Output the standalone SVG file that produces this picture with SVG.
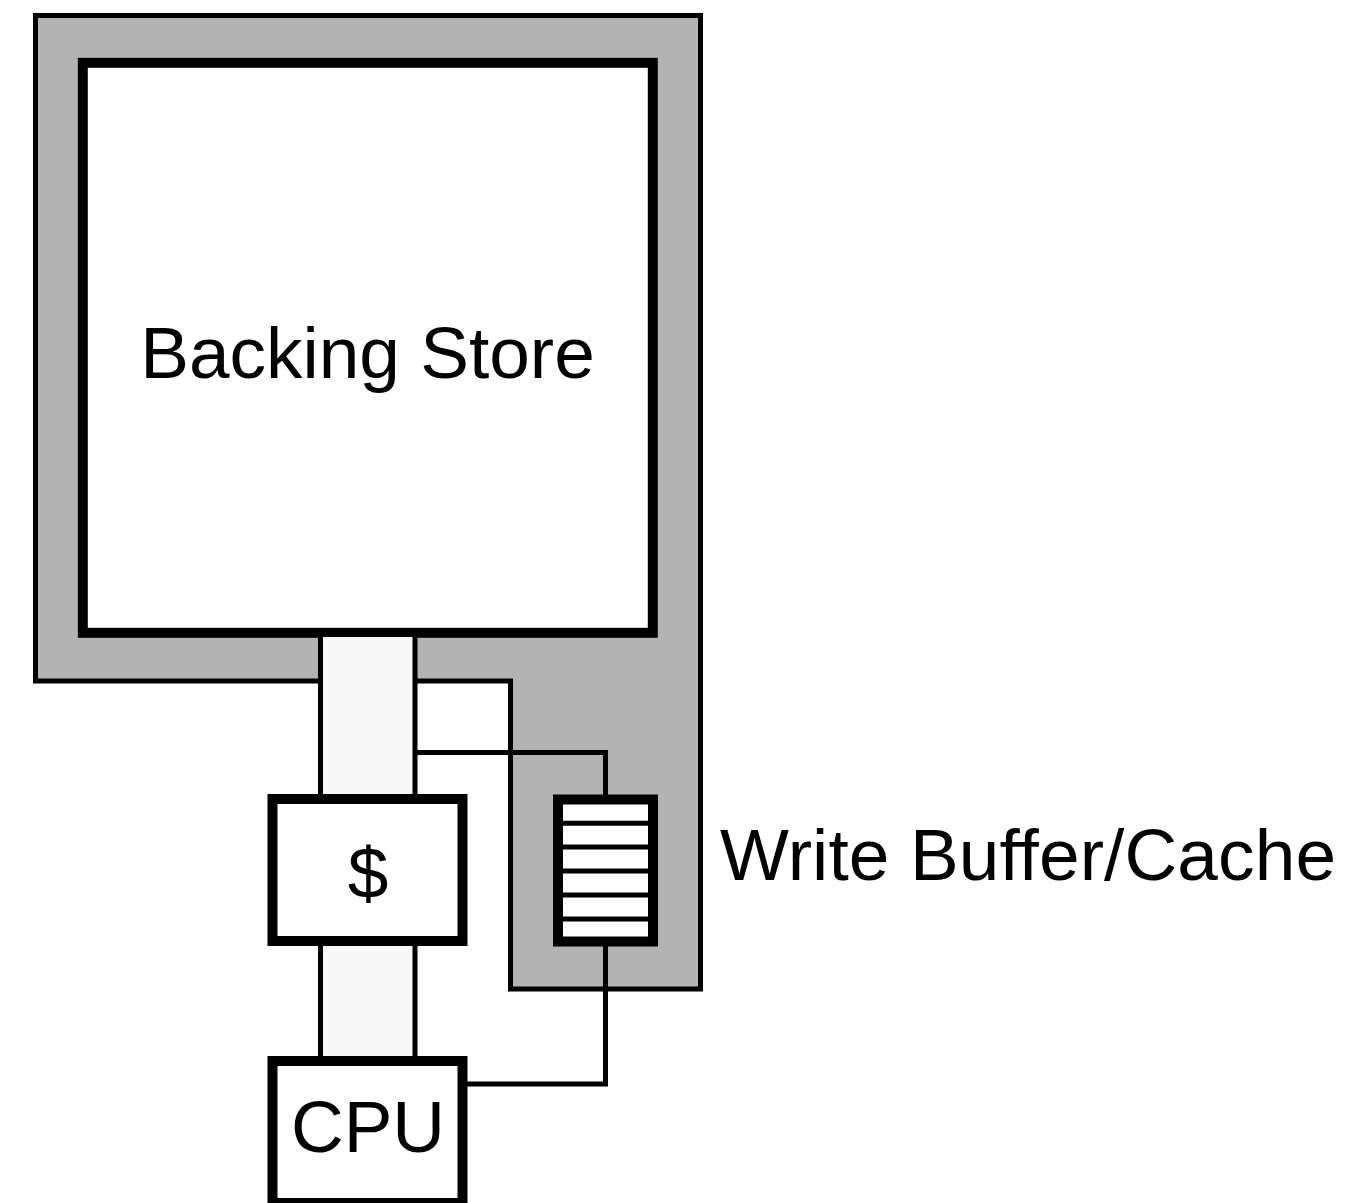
<svg xmlns="http://www.w3.org/2000/svg" width="1347" height="1203" viewBox="0 0 1347 1203">
<style>
.lbl{font-family:"Liberation Sans",Arial,sans-serif;font-size:73px;fill:#000}
.box{fill:#fff;stroke:#000;stroke-width:10}
.wire{fill:none;stroke:#000;stroke-width:5}
.bus{fill:#f7f7f7;stroke:none}
</style>
<rect width="1347" height="1203" fill="#fff"/>
<g id="memory-region">
<path d="M35.5,15.5 H700.5 V989 H510.5 V681 H35.5 Z" fill="#b3b3b3" stroke="#000" stroke-width="5"/>
</g>
<g id="backing-store">
<rect class="box" x="82.8" y="62.8" width="570" height="570"/>
<text class="lbl" x="367.5" y="378" text-anchor="middle">Backing Store</text>
</g>
<g id="connectors">
<rect class="bus" x="320.5" y="637" width="94.5" height="162"/>
<rect class="bus" x="320.5" y="941" width="94.5" height="120"/>
<path class="wire" d="M320.5,637 V799 M415,637 V799 M320.5,941 V1061 M415,941 V1061"/>
<path class="wire" d="M415,752.5 H605.5 V799.5"/>
<path class="wire" d="M605.5,941.5 V1084 H462.5"/>
</g>
<g id="cache">
<rect class="box" x="272.5" y="799" width="190" height="142"/>
<text class="lbl" x="368" y="898" text-anchor="middle">$</text>
</g>
<g id="write-buffer">
<rect class="box" x="558" y="799.5" width="95" height="142"/>
<path class="wire" d="M558,823.3 H653 M558,847 H653 M558,871 H653 M558,895 H653 M558,919 H653"/>
<text class="lbl" x="720" y="880" textLength="616" lengthAdjust="spacing">Write Buffer/Cache</text>
</g>
<g id="cpu">
<rect class="box" x="272.5" y="1061" width="190" height="142"/>
<text class="lbl" x="368" y="1152" text-anchor="middle">CPU</text>
</g>
</svg>
